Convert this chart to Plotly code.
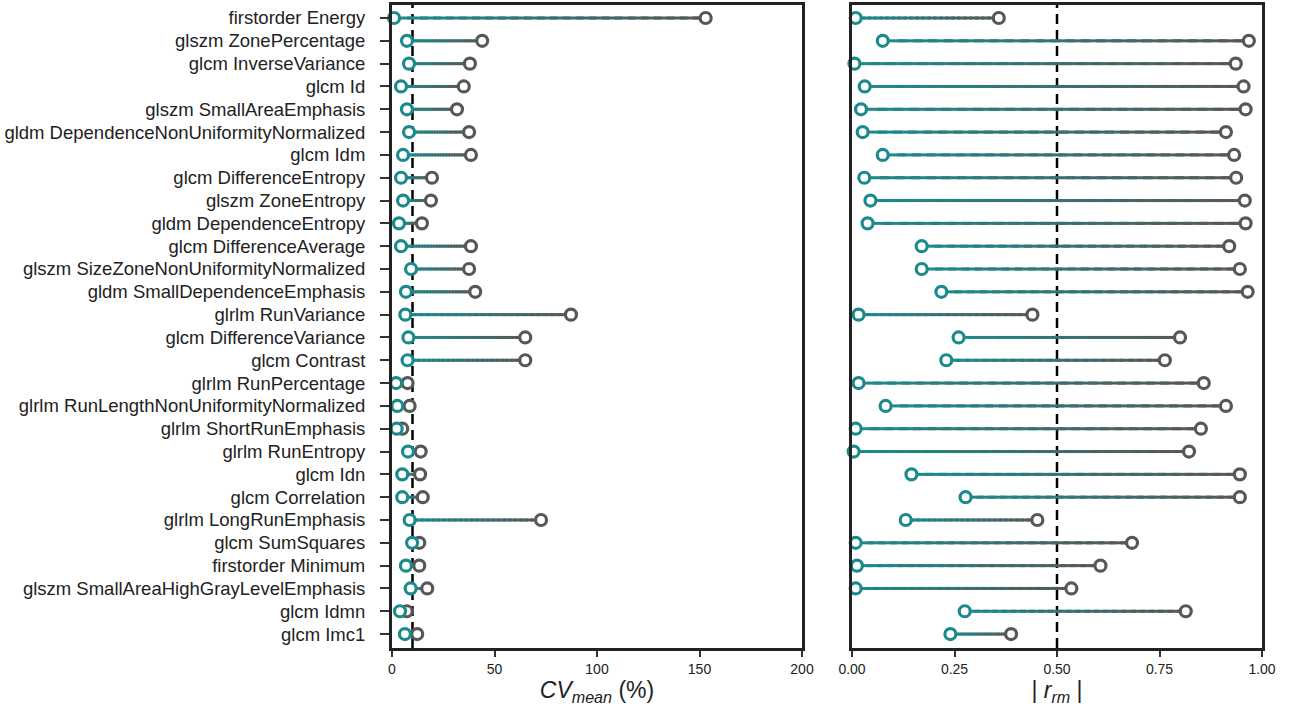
import plotly.graph_objects as go

features = [
    "firstorder Energy", "glszm ZonePercentage", "glcm InverseVariance", "glcm Id",
    "glszm SmallAreaEmphasis", "gldm DependenceNonUniformityNormalized", "glcm Idm",
    "glcm DifferenceEntropy", "glszm ZoneEntropy", "gldm DependenceEntropy",
    "glcm DifferenceAverage", "glszm SizeZoneNonUniformityNormalized",
    "gldm SmallDependenceEmphasis", "glrlm RunVariance", "glcm DifferenceVariance",
    "glcm Contrast", "glrlm RunPercentage", "glrlm RunLengthNonUniformityNormalized",
    "glrlm ShortRunEmphasis", "glrlm RunEntropy", "glcm Idn", "glcm Correlation",
    "glrlm LongRunEmphasis", "glcm SumSquares", "firstorder Minimum",
    "glszm SmallAreaHighGrayLevelEmphasis", "glcm Idmn", "glcm Imc1",
]

cv_low = [1.0, 7.3, 8.3, 4.4, 7.3, 8.3, 5.4, 4.4, 5.4, 3.4, 4.4, 9.3, 6.8, 6.5,
          8.0, 7.6, 2.0, 2.6, 2.3, 7.8, 5.0, 5.0, 8.6, 9.8, 6.8, 9.1, 3.9, 6.3]
cv_high = [153, 44, 38, 35, 31.7, 37.6, 38.5, 19.5, 19, 14.6, 38.5, 37.6, 40.6, 87.3,
           65, 65, 7.6, 8.6, 5.0, 14, 13.7, 15, 72.7, 13.3, 13.3, 17.2, 7.2, 12.3]

r_low = [0.009, 0.075, 0.006, 0.031, 0.022, 0.026, 0.075, 0.030, 0.045, 0.038,
         0.170, 0.170, 0.218, 0.016, 0.260, 0.230, 0.016, 0.082, 0.009, 0.004,
         0.145, 0.277, 0.131, 0.009, 0.012, 0.009, 0.275, 0.240]
r_high = [0.358, 0.968, 0.936, 0.955, 0.960, 0.912, 0.932, 0.937, 0.958, 0.960,
          0.920, 0.946, 0.965, 0.440, 0.800, 0.763, 0.858, 0.912, 0.851, 0.822,
          0.946, 0.946, 0.452, 0.683, 0.606, 0.535, 0.814, 0.388]

cv_threshold = 10
r_threshold = 0.5

TEAL = (27, 138, 140)
GRAY = (87, 87, 87)
N_SEG = 24

fig = go.Figure()


def mix(t):
    c = [round(TEAL[i] + (GRAY[i] - TEAL[i]) * t) for i in range(3)]
    return f"rgb({c[0]},{c[1]},{c[2]})"


def add_panel(low, high, xa, ya):
    # gradient stem: each colour band overlaps into the next so no seams show
    for k in range(N_SEG):
        xs, ys = [], []
        end = min(k + 1.6, N_SEG)
        for f, a, b in zip(features, low, high):
            xs += [a + (b - a) * k / N_SEG, a + (b - a) * end / N_SEG, None]
            ys += [f, f, None]
        fig.add_trace(go.Scatter(x=xs, y=ys, mode="lines", xaxis=xa, yaxis=ya,
                                 line=dict(color=mix((k + 0.5) / N_SEG), width=3),
                                 showlegend=False, hoverinfo="skip", cliponaxis=False))
    fig.add_trace(go.Scatter(x=high, y=features, mode="markers", xaxis=xa, yaxis=ya,
                             marker=dict(size=11, color="white", symbol="circle",
                                         line=dict(color=mix(1), width=3.2)),
                             showlegend=False, cliponaxis=False))
    fig.add_trace(go.Scatter(x=low, y=features, mode="markers", xaxis=xa, yaxis=ya,
                             marker=dict(size=11, color="white", symbol="circle",
                                         line=dict(color=mix(0), width=3.2)),
                             showlegend=False, cliponaxis=False))


add_panel(cv_low, cv_high, "x", "y")
add_panel(r_low, r_high, "x2", "y2")

dash_line = dict(color="black", width=2.5, dash="10px,6px")
fig.add_shape(type="line", xref="x", yref="y domain", x0=cv_threshold, x1=cv_threshold,
              y0=0, y1=1, line=dash_line, layer="below")
fig.add_shape(type="line", xref="x2", yref="y2 domain", x0=r_threshold, x1=r_threshold,
              y0=0, y1=1, line=dash_line, layer="below")

W, H = 1292, 706
ydom = [1 - 648 / H, 1 - 5 / H]
axis_common = dict(showline=True, linecolor="#222222", linewidth=3, mirror=True,
                   showgrid=False, zeroline=False, ticks="outside", ticklen=6,
                   tickwidth=2, tickcolor="#333333", automargin=False,
                   tickfont=dict(size=14, color="#222222"))

fig.update_layout(
    width=W, height=H, margin=dict(l=0, r=0, t=0, b=0, pad=0),
    paper_bgcolor="white", plot_bgcolor="white",
    font=dict(family="Liberation Sans, Arial, sans-serif", color="#222222"),
    xaxis=dict(domain=[392 / W, 802 / W], range=[0, 200], tickvals=[0, 50, 100, 150, 200],
               title=dict(text="<i>CV</i><sub><i>mean</i></sub> (%)", font=dict(size=23),
                          standoff=6),
               anchor="y", **axis_common),
    yaxis=dict(domain=ydom, type="category", categoryorder="array", categoryarray=features,
               range=[27.61, -0.57], anchor="x", ticklabelstandoff=11,
               **{**axis_common, "ticklen": 9,
                  "tickfont": dict(size=18.5, color="#222222")}),
    xaxis2=dict(domain=[852 / W, 1262 / W], range=[0, 1],
                tickvals=[0, 0.25, 0.5, 0.75, 1.0],
                ticktext=["0.00", "0.25", "0.50", "0.75", "1.00"],
                title=dict(text="| <i>r</i><sub><i>rm</i></sub> |", font=dict(size=23),
                           standoff=6),
                anchor="y2", **axis_common),
    yaxis2=dict(domain=ydom, type="category", categoryorder="array", categoryarray=features,
                range=[27.61, -0.57], anchor="x2", showticklabels=False,
                **{**axis_common, "ticks": ""}),
)

fig.write_html("out.html")
